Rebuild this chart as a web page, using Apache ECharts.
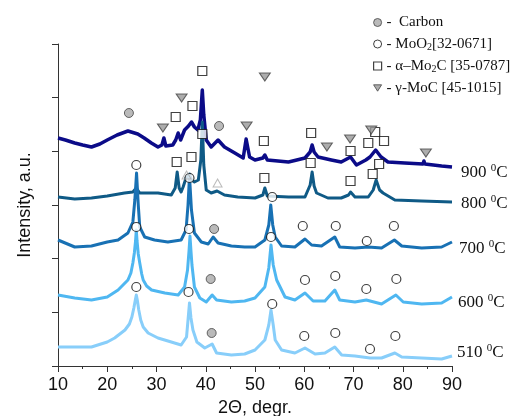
<!DOCTYPE html>
<html>
<head>
<meta charset="utf-8">
<script src="https://cdn.jsdelivr.net/npm/echarts@6/dist/echarts.min.js"></script>
<style>
html,body{margin:0;padding:0;background:#fff;}
#c{width:519px;height:416px;}
</style>
</head>
<body>
<div id="c"></div>
<script>
// XRD patterns, [2Theta (deg), intensity (a.u.)] - stacked
const xrd900 = [[10,228],[11.5,226],[13.4,223],[15,221],[16.8,219],[18.5,222],[20,226],[22,231],[24.2,235],[26.2,232],[27.5,228],[28.95,223],[30.3,219],[31.1,221],[31.5,228],[31.9,220],[32.3,218],[33.3,221],[33.9,226],[34.4,233],[34.9,226],[35.7,236],[36.5,240],[37.1,244],[37.7,239],[38.4,236],[38.9,246],[39.3,276],[39.6,251],[40.1,226],[41.1,219],[42.5,226],[43.8,219],[45.9,213],[47.6,208],[48.2,227],[48.9,209],[50,206],[51.6,208],[52,211],[52.5,206],[56.8,204],[60.15,208],[61.2,214],[61.6,221],[62.0,214],[62.8,209],[65.5,206],[67.5,204],[69.4,209],[70.6,201],[72.5,206],[73.35,209],[74.5,216],[75.6,209],[77,204],[80.4,203],[84.1,202],[84.3,205],[84.5,202],[87.9,200],[90,199]];
const xrd800 = [[10,169],[13.4,167],[16.8,168],[20,170],[23.5,173],[25.2,174],[25.9,178],[26.6,173],[30.3,173],[33,171],[33.8,178],[34.2,194],[34.6,178],[35.0,174],[35.4,179],[36.0,188],[36.7,192],[37.1,186],[37.7,184],[38.5,186],[39.0,206],[39.3,244],[39.6,201],[40.1,176],[41.1,173],[42.3,175],[43.8,171],[46.5,169],[50,168],[51.6,171],[52.0,178],[52.5,170],[56.8,169],[60.15,169],[61.2,181],[61.6,194],[62.0,180],[62.5,173],[64.8,168],[67.5,168],[69.0,171],[69.4,174],[70.3,169],[73,169],[74.0,176],[74.6,186],[75.3,176],[75.6,178],[76.0,173],[78.4,166],[83.85,165],[90,164]];
const xrd700 = [[10,126],[13.4,119],[16.8,120],[20,124],[22.2,126],[24.2,133],[25.2,144],[25.6,166],[25.95,193],[26.3,161],[26.6,139],[27.6,129],[29.6,126],[32.3,124],[35,126],[36,136],[36.4,161],[36.7,190],[37.1,156],[37.7,133],[39.1,124],[40.5,122],[41.5,129],[42.5,123],[45.2,120],[47.9,119],[50,119],[52,126],[52.8,141],[53.2,161],[53.6,141],[54.1,129],[55.4,120],[58.1,119],[60.15,127],[61.5,121],[63.5,120],[66.2,129],[67.2,119],[70.3,118],[73,119],[75.7,118],[78.3,126],[79.8,120],[83.85,118],[87.9,119],[90,124]];
const xrd600 = [[10,71],[13.4,68],[16.8,66],[20,69],[22.2,76],[24.2,86],[24.8,93],[25.2,103],[25.5,113],[25.75,125],[25.9,136],[26.05,125],[26.3,112],[26.6,103],[27.0,92],[27.3,86],[28,80],[29,76],[31.7,73],[34.4,71],[35.7,79],[36.3,96],[36.6,115],[36.8,130],[37.0,115],[37.2,101],[37.7,79],[38.8,68],[40.1,64],[41.3,71],[42.2,66],[45.2,64],[47.9,65],[50,68],[52,79],[52.8,98],[53.25,121],[53.7,101],[54.4,86],[56.1,69],[58.1,66],[60.15,73],[61.8,65],[64.2,65],[66.2,76],[67.2,66],[70.3,64],[72.6,66],[75.7,62],[78.6,71],[80.1,64],[83.85,62],[87.9,63],[90,69]];
const xrd510 = [[10,19],[13.4,19],[16.8,19],[20,24],[21.5,28],[23.6,36],[24.5,42],[25.0,49],[25.4,58],[25.7,66],[25.9,71],[26.1,66],[26.4,56],[26.8,46],[27.3,39],[28.3,33],[30.3,28],[33,24],[35,21],[36.1,29],[36.4,46],[36.7,63],[37.0,48],[37.4,36],[38.2,24],[39.8,18],[41.3,22],[42.2,13],[45.2,11],[47.9,12],[50,16],[52,26],[52.8,41],[53.25,56],[53.7,41],[54.1,26],[55.4,16],[58.1,13],[60.15,18],[62.2,12],[64.2,13],[66.2,19],[67.6,11],[70.3,10],[73.35,8],[75.7,8],[78.4,13],[79.8,9],[83.85,8],[87.9,7],[90,10]];

// phase markers [2Theta, position]
const carbonMarks = [[24.4,253],[42.7,240],[41.7,137],[41.0,87],[41.2,33]];
const moo2Marks = [[25.9,201],[36.7,188],[53.5,169],[25.9,139],[36.6,137],[53.25,129],[59.7,140],[66.4,140],[72.7,125],[78.2,140],[25.9,79],[36.5,74],[53.5,62],[60.15,86],[66.3,90],[72.6,77],[78.7,87],[60.0,30],[66.3,33],[73.35,17],[78.5,30]];
const mo2cMarks = [[33.9,249],[37.3,260],[39.3,295],[39.3,232],[51.8,225],[61.4,233],[69.4,215],[73.0,223],[74.4,234],[76.2,225],[61.3,203],[75.2,202],[34.1,204],[37.1,209],[51.9,188],[69.4,185],[73.9,192]];
const mocMarks = [[31.3,238],[35.1,268],[48.3,240],[52.0,289],[64.6,219],[69.3,227],[73.6,236],[84.7,213]];
const deltaMarks = [[36.1,191],[42.4,183]];

const xTicks = [10,20,30,40,50,60,70,80,90];
const tempLabels = ['900','800','700','600','510'];

const chart = echarts.init(document.getElementById('c'), null, {renderer:'canvas'});
const triDown = 'path://M0,0 L10,0 L5,8 Z';
const serif = '"Liberation Serif","Times New Roman",serif';
const sans = '"Liberation Sans",Arial,sans-serif';

function lineSeries(name, data, color, width){
  return {name:name, type:'line', data:data, symbol:'none', silent:true,
    lineStyle:{color:color, width:width, join:'round'}, z:2, animation:false};
}
const gridLeft=58, gridTop=44, gridW=394, gridH=322;
const labelY = [173,204,249,303,353];
const labelX = [461,461,459,458,457];

const option = {
  animation:false,
  backgroundColor:'#fff',
  grid:{left:gridLeft, top:gridTop, width:gridW, height:gridH, outerBoundsMode:'none', containLabel:false},
  legend:{
    orient:'vertical', left:368, top:10, itemWidth:8, itemHeight:8, itemGap:6.5,
    selectedMode:false,
    data:[
      {name:'Carbon', icon:'circle', itemStyle:{color:'#a9a9a9', borderColor:'#444', borderWidth:1}},
      {name:'MoO2', icon:'circle', itemStyle:{color:'#fff', borderColor:'#111', borderWidth:1}},
      {name:'Mo2C', icon:'rect', itemStyle:{color:'#fff', borderColor:'#111', borderWidth:1.2}},
      {name:'MoC', icon:triDown, itemStyle:{color:'#999', borderColor:'#444', borderWidth:1}}
    ],
    formatter:function(n){
      if(n==='Carbon') return '{n|-  Carbon}';
      if(n==='MoO2') return '{n|- MoO}{s|2}{n|[32-0671]}';
      if(n==='Mo2C') return '{n|- α–Mo}{s|2}{n|C [35-0787]}';
      return '{n|- γ-MoC [45-1015]}';
    },
    textStyle:{color:'#111', fontFamily:serif, fontSize:15,
      rich:{n:{fontFamily:serif, fontSize:15, lineHeight:16, color:'#111'},
            s:{fontFamily:serif, fontSize:10, lineHeight:8, verticalAlign:'bottom', color:'#111'}}}
  },
  xAxis:{
    type:'value', min:10, max:90, interval:10,
    name:'2Θ, degr.', nameLocation:'middle', nameGap:30,
    nameTextStyle:{fontFamily:sans, fontSize:18, color:'#111'},
    axisLine:{lineStyle:{color:'#333', width:1}},
    axisTick:{show:true, length:6, inside:false, lineStyle:{color:'#333'}},
    minorTick:{show:true, splitNumber:2, length:3, lineStyle:{color:'#333'}},
    axisLabel:{fontFamily:sans, fontSize:18, color:'#111', margin:10,
      formatter:function(v){return xTicks.indexOf(v)>=0 ? String(v) : '';}},
    splitLine:{show:false}
  },
  yAxis:{
    type:'value', min:0, max:322, interval:53.6667,
    name:'Intensity, a.u.', nameLocation:'middle', nameGap:24,
    nameTextStyle:{fontFamily:sans, fontSize:18, color:'#111'},
    axisLine:{show:true, lineStyle:{color:'#333', width:1}},
    axisTick:{show:true, length:6, inside:false, lineStyle:{color:'#333'}},
    axisLabel:{show:false},
    splitLine:{show:false}
  },
  series:[
    lineSeries('900', xrd900, '#0b0b88', 3.5),
    lineSeries('800', xrd800, '#0f5a86', 3),
    lineSeries('700', xrd700, '#1871b4', 3),
    lineSeries('600', xrd600, '#4fb7f1', 3),
    lineSeries('510', xrd510, '#88cefa', 3),
    {name:'Carbon', type:'scatter', data:carbonMarks, symbol:'circle', symbolSize:9, z:5,
      itemStyle:{color:'#a9a9a9', borderColor:'#444', borderWidth:1}},
    {name:'MoO2', type:'scatter', data:moo2Marks, symbol:'circle', symbolSize:9, z:5,
      itemStyle:{color:'#fff', borderColor:'#111', borderWidth:1.2}},
    {name:'Mo2C', type:'scatter', data:mo2cMarks, symbol:'rect', symbolSize:9, z:5,
      itemStyle:{color:'#fff', borderColor:'#111', borderWidth:1.2}},
    {name:'MoC', type:'scatter', data:mocMarks, symbol:triDown, symbolSize:[11,8], z:5,
      itemStyle:{color:'#999', borderColor:'#444', borderWidth:1}},
    {name:'delta', type:'scatter', data:deltaMarks, symbol:'triangle', symbolSize:[9,8], z:5,
      itemStyle:{color:'rgba(255,255,255,0)', borderColor:'#aaa', borderWidth:1}}
  ],
  graphic: tempLabels.map(function(t,i){
    return {type:'text', left:labelX[i], top:labelY[i]-10, z:10,
      style:{text:'{n|'+t+' }{s|0}{n|C}', fill:'#111',
        rich:{n:{fontFamily:serif, fontSize:17, lineHeight:20, fill:'#111', color:'#111'},
              s:{fontFamily:serif, fontSize:11, lineHeight:11, verticalAlign:'top', fill:'#111', color:'#111'}}}};
  })
};
chart.setOption(option);
</script>
</body>
</html>
